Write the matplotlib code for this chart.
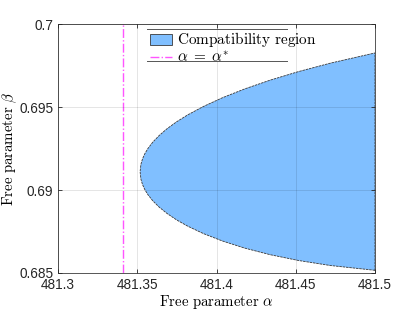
import matplotlib
matplotlib.use("Agg")
import matplotlib.pyplot as plt
from matplotlib.lines import Line2D
from matplotlib.patches import Patch

plt.rcParams['mathtext.fontset'] = 'cm'
plt.rcParams['font.family'] = ['Liberation Sans', 'DejaVu Sans']

# boundary of the compatibility region
alpha_vertex = 481.3518
beta_vertex = 0.6911
alpha_edge = [481.3523, 481.3533, 481.3548, 481.3568, 481.3598, 481.3638, 481.3688,
              481.3748, 481.3818, 481.3918, 481.4038, 481.4178, 481.4338, 481.4518,
              481.4718, 481.5]
beta_upper = [0.691546, 0.691873, 0.692193, 0.692511, 0.692884, 0.693282, 0.693693,
              0.694108, 0.694525, 0.695036, 0.695562, 0.696091, 0.696618, 0.697136,
              0.697642, 0.698258]
beta_lower = [0.690656, 0.690333, 0.690019, 0.689709, 0.689350, 0.688970, 0.688585,
              0.688200, 0.687823, 0.687372, 0.686926, 0.686499, 0.686104, 0.685752,
              0.685452, 0.685162]
alpha_star = 481.3408

xticks = [481.3, 481.35, 481.4, 481.45, 481.5]
xticklabels = ['481.3', '481.35', '481.4', '481.45', '481.5']
yticks = [0.685, 0.69, 0.695, 0.7]
yticklabels = ['0.685', '0.69', '0.695', '0.7']

fig = plt.figure(figsize=(4.15, 3.12), dpi=100)
ax = fig.add_axes([0.1398, 0.125, 0.7638, 0.798])

poly_a = alpha_edge[::-1] + [alpha_vertex] + alpha_edge
poly_b = beta_lower[::-1] + [beta_vertex] + beta_upper
ax.fill(poly_a, poly_b, facecolor='#80bfff', edgecolor='#3a3a3a', linewidth=0.6,
        linestyle=(0, (3, 1)), zorder=1)
ax.axvline(alpha_star, color='#ff55ff', linestyle='-.', linewidth=1.0, zorder=2)

ax.set_xlim(481.3, 481.5)
ax.set_ylim(0.685, 0.7)
ax.set_xticks(xticks)
ax.set_xticklabels(xticklabels)
ax.set_yticks(yticks)
ax.set_yticklabels(yticklabels)
ax.tick_params(direction='in', length=3, width=0.6, colors='#262626', labelsize=9.8,
               top=True, right=True, labeltop=False, labelright=False)
ax.grid(True, color='#000000', alpha=0.12, linewidth=0.6, zorder=3)
ax.set_axisbelow(False)
for s in ax.spines.values():
    s.set_color('#555555')
    s.set_linewidth(0.7)

ax.set_xlabel(r'$\mathrm{Free\ parameter}\ \alpha$', fontsize=10.7, labelpad=1)
ax.set_ylabel(r'$\mathrm{Free\ parameter}\ \beta$', fontsize=10.7)
ax.yaxis.set_label_coords(-0.122, 0.5)

handles = [Patch(facecolor='#80bfff', edgecolor='#3a3a3a', linewidth=0.6),
           Line2D([0], [0], color='#ff55ff', linestyle='-.', linewidth=1.0)]
labels = [r'$\mathrm{Compatibility\ region}$', r'$\alpha\;=\;\alpha^{*}$']
leg = ax.legend(handles, labels, loc='upper left', bbox_to_anchor=(0.290, 0.974),
                frameon=False, fontsize=11, handlelength=1.45, handleheight=0.75,
                handletextpad=0.33, borderpad=0, borderaxespad=0, labelspacing=0.1)
ax.plot([0.281, 0.722], [0.980, 0.980], transform=ax.transAxes, color='#555555',
        linewidth=0.7, zorder=5)
ax.plot([0.281, 0.722], [0.851, 0.851], transform=ax.transAxes, color='#555555',
        linewidth=0.7, zorder=5)

fig.savefig('out.png', dpi=100)
